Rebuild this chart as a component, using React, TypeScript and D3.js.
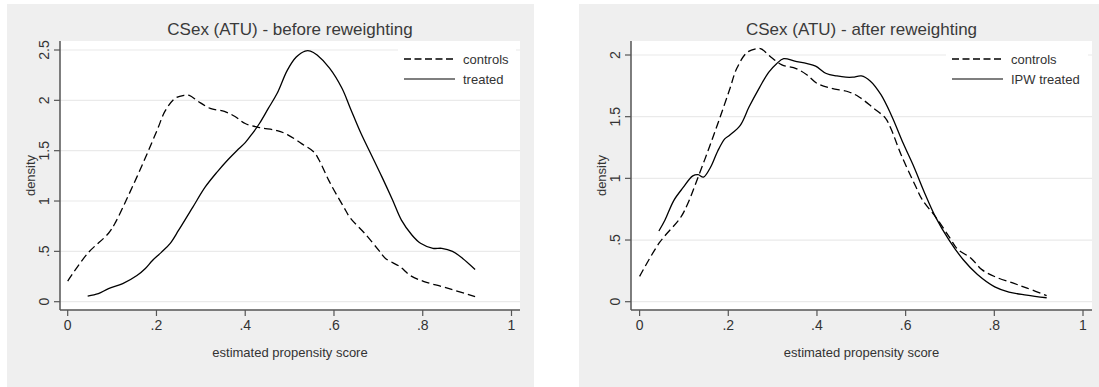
import React from "react";
import * as d3 from "d3";

// ---- data ----
const controlsX = [0, 0.045, 0.092, 0.108, 0.132, 0.156, 0.179, 0.203, 0.219, 0.242, 0.262, 0.274, 0.294, 0.321, 0.353, 0.377, 0.4, 0.432, 0.472, 0.495, 0.527, 0.554, 0.566, 0.59, 0.622, 0.637, 0.669, 0.701, 0.716, 0.748, 0.772, 0.803, 0.843, 0.874, 0.918];
const controlsY = [0.205, 0.48, 0.68, 0.79, 1.01, 1.24, 1.47, 1.72, 1.89, 2.02, 2.05, 2.05, 1.99, 1.92, 1.89, 1.84, 1.77, 1.73, 1.7, 1.66, 1.57, 1.49, 1.41, 1.19, 0.94, 0.83, 0.68, 0.51, 0.43, 0.35, 0.26, 0.2, 0.15, 0.11, 0.05];

const treatedX = [0.045, 0.069, 0.092, 0.124, 0.156, 0.175, 0.191, 0.211, 0.231, 0.25, 0.282, 0.31, 0.337, 0.361, 0.381, 0.4, 0.416, 0.432, 0.452, 0.472, 0.495, 0.515, 0.535, 0.547, 0.562, 0.59, 0.618, 0.637, 0.661, 0.684, 0.708, 0.732, 0.752, 0.776, 0.795, 0.823, 0.843, 0.867, 0.89, 0.918];
const treatedY = [0.056, 0.08, 0.13, 0.18, 0.26, 0.33, 0.41, 0.49, 0.58, 0.71, 0.94, 1.14, 1.29, 1.41, 1.5, 1.58, 1.67, 1.77, 1.92, 2.07, 2.3, 2.43, 2.49, 2.49, 2.45, 2.32, 2.12, 1.92, 1.67, 1.46, 1.24, 1.01, 0.81, 0.66, 0.58, 0.53, 0.53, 0.5, 0.43, 0.32];

const ipwX = [0.0435, 0.057, 0.077, 0.097, 0.12, 0.132, 0.144, 0.16, 0.176, 0.192, 0.203, 0.227, 0.247, 0.271, 0.291, 0.309, 0.325, 0.35, 0.378, 0.397, 0.421, 0.445, 0.465, 0.481, 0.5, 0.52, 0.544, 0.568, 0.595, 0.619, 0.643, 0.667, 0.698, 0.73, 0.762, 0.801, 0.833, 0.873, 0.918];
const ipwY = [0.573, 0.66, 0.82, 0.92, 1.02, 1.03, 1.01, 1.09, 1.22, 1.32, 1.35, 1.43, 1.58, 1.74, 1.86, 1.93, 1.97, 1.95, 1.93, 1.91, 1.85, 1.83, 1.82, 1.82, 1.83, 1.79, 1.68, 1.51, 1.28, 1.09, 0.88, 0.69, 0.5, 0.34, 0.22, 0.12, 0.078, 0.054, 0.032];

const xTicks = [0, 0.2, 0.4, 0.6, 0.8, 1];
const xTickLabels = ["0", ".2", ".4", ".6", ".8", "1"];
const yTicksLeft = [0, 0.5, 1, 1.5, 2, 2.5];
const yTickLabelsLeft = ["0", ".5", "1", "1.5", "2", "2.5"];
const yTicksRight = [0, 0.5, 1, 1.5, 2];
const yTickLabelsRight = ["0", ".5", "1", "1.5", "2"];

const titleLeft = "CSex (ATU) - before reweighting";
const titleRight = "CSex (ATU) - after reweighting";
const legendLeft = ["controls", "treated"];
const legendRight = ["controls", "IPW treated"];

const FONT = "'Liberation Sans', Arial, Helvetica, sans-serif";
const TEXT = "#333";
const AXIS = "#555";

type PanelProps = {
  bgX: number;
  bgW: number;
  plotL: number;
  plotR: number;
  x0: number;
  x1: number;
  yMax: number;
  yMaxPx: number;
  yTicks: number[];
  yLabels: string[];
  title: string;
  legend: string[];
  solidX: number[];
  solidY: number[];
  legendL: number;
};

function Panel(p: PanelProps) {
  const plotT = 41;
  const plotB = 310;
  const x = d3.scaleLinear().domain([0, 1]).range([p.x0, p.x1]);
  const y = d3.scaleLinear().domain([0, p.yMax]).range([301.7, p.yMaxPx]);
  const line = d3
    .line<[number, number]>()
    .x((d) => x(d[0]))
    .y((d) => y(d[1]))
    .curve(d3.curveCatmullRom.alpha(0.5));
  const ctrl = line(controlsX.map((v, i) => [v, controlsY[i]] as [number, number])) || "";
  const sol = line(p.solidX.map((v, i) => [v, p.solidY[i]] as [number, number])) || "";
  const midY = (plotT + plotB) / 2;
  const midX = (p.plotL + p.plotR) / 2;
  const lgTop = 48;
  return (
    <g>
      <rect x={p.bgX} y={4} width={p.bgW} height={383} fill="#efefef" />
      <rect x={p.plotL} y={plotT} width={p.plotR - p.plotL} height={plotB - plotT} fill="#fff" />
      {p.yTicks.map((t) => (
        <line key={"g" + t} x1={p.plotL} x2={p.plotR} y1={y(t)} y2={y(t)} stroke="#eaeaea" strokeWidth={1.2} />
      ))}
      <rect x={p.legendL} y={lgTop} width={p.plotR - 4 - p.legendL} height={43} fill="#fff" />
      <path d={ctrl} fill="none" stroke="#000" strokeWidth={1.3} strokeDasharray="8,4" />
      <path d={sol} fill="none" stroke="#000" strokeWidth={1.3} />
      <line x1={p.plotL} x2={p.plotL} y1={plotT} y2={plotB} stroke={AXIS} strokeWidth={1.5} />
      <line x1={p.plotL} x2={p.plotR} y1={plotB} y2={plotB} stroke={AXIS} strokeWidth={1.5} />
      {xTicks.map((t, i) => (
        <g key={"x" + t}>
          <line x1={x(t)} x2={x(t)} y1={plotB} y2={plotB + 6} stroke={AXIS} strokeWidth={1.2} />
          <text x={x(t)} y={330} textAnchor="middle" fontSize={14} fill={TEXT} fontFamily={FONT}>
            {xTickLabels[i]}
          </text>
        </g>
      ))}
      {p.yTicks.map((t, i) => (
        <g key={"y" + t}>
          <line x1={p.plotL - 6} x2={p.plotL} y1={y(t)} y2={y(t)} stroke={AXIS} strokeWidth={1.2} />
          <text
            transform={`translate(${p.plotL - 11},${y(t)}) rotate(-90)`}
            textAnchor="middle"
            fontSize={14}
            fill={TEXT}
            fontFamily={FONT}
          >
            {p.yLabels[i]}
          </text>
        </g>
      ))}
      <text
        transform={`translate(${p.plotL - 25},${midY}) rotate(-90)`}
        textAnchor="middle"
        fontSize={13}
        fill={TEXT}
        fontFamily={FONT}
      >
        density
      </text>
      <text x={midX} y={357} textAnchor="middle" fontSize={13} fill={TEXT} fontFamily={FONT}>
        estimated propensity score
      </text>
      <text x={midX} y={35} textAnchor="middle" fontSize={17} fill="#3a3a3a" fontFamily={FONT}>
        {p.title}
      </text>
      <line x1={p.legendL + 6} x2={p.legendL + 57} y1={59} y2={59} stroke="#000" strokeWidth={1.3} strokeDasharray="7,3.5" />
      <line x1={p.legendL + 6} x2={p.legendL + 57} y1={79} y2={79} stroke="#555" strokeWidth={1.6} />
      <text x={p.legendL + 65} y={64} fontSize={13} fill={TEXT} fontFamily={FONT}>
        {p.legend[0]}
      </text>
      <text x={p.legendL + 65} y={84} fontSize={13} fill={TEXT} fontFamily={FONT}>
        {p.legend[1]}
      </text>
    </g>
  );
}

export default function App() {
  return (
    <svg width={1099} height={387} style={{ position: "absolute", left: 0, top: 0, background: "#fff" }}>
      <Panel
        bgX={7}
        bgW={527}
        plotL={60}
        plotR={520}
        x0={67.7}
        x1={511.5}
        yMax={2.5}
        yMaxPx={50}
        yTicks={yTicksLeft}
        yLabels={yTickLabelsLeft}
        title={titleLeft}
        legend={legendLeft}
        solidX={treatedX}
        solidY={treatedY}
        legendL={398}
      />
      <Panel
        bgX={579}
        bgW={520}
        plotL={631}
        plotR={1092}
        x0={639.6}
        x1={1083}
        yMax={2}
        yMaxPx={55}
        yTicks={yTicksRight}
        yLabels={yTickLabelsRight}
        title={titleRight}
        legend={legendRight}
        solidX={ipwX}
        solidY={ipwY}
        legendL={946}
      />
    </svg>
  );
}
